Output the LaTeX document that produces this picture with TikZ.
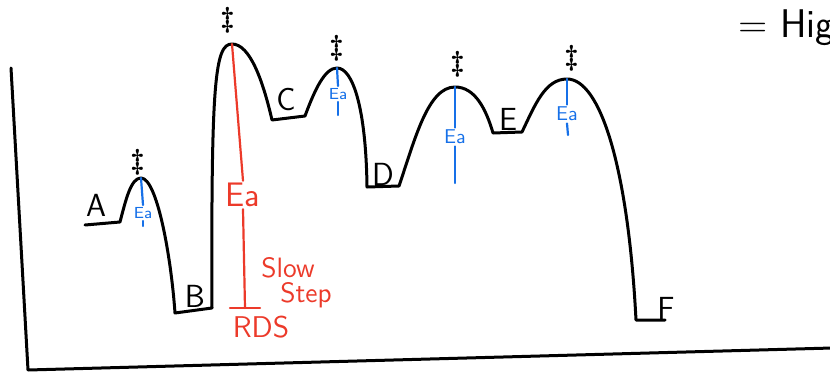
\documentclass[tikz,border=0pt]{standalone}
\usepackage{tikz}
\usetikzlibrary{positioning, calc}
\definecolor{sketchred}{RGB}{236,58,42}
\definecolor{sketchblue}{RGB}{22,112,232}

\begin{document}
\begin{tikzpicture}[x=0.5pt, y=0.5pt, font=\sffamily,
    profile/.style={line width=1.5pt, black, line cap=round, line join=round},
    ealine/.style={line width=1.1pt, sketchblue, line cap=round},
    rdsline/.style={line width=1.1pt, sketchred, line cap=round},
    state/.style={inner sep=1pt, font=\sffamily\fontsize{16}{16}\selectfont},
    ts/.style={inner sep=0pt, font=\boldmath\fontsize{14}{14}\selectfont},
    ealabel/.style={inner sep=1pt, text=sketchblue, font=\sffamily\fontsize{8}{8}\selectfont},
    redlabel/.style={inner sep=1pt, text=sketchred, font=\sffamily\fontsize{14}{14}\selectfont}]
    \useasboundingbox (0,0) rectangle (830,371);

    % Axes
    \coordinate (Top) at (11,303);
    \coordinate (Origin) at (28,1);
    \coordinate (Right) at (832,23);
    \draw[profile] (Top) -- (Origin) -- (Right);

    % Levels and peaks
    \coordinate (A1) at (85,146);  \coordinate (A2) at (120,149);
    \coordinate (P1) at (141,193);
    \coordinate (B1) at (175,58);  \coordinate (B2) at (212,63);
    \coordinate (P2) at (232,327);
    \coordinate (C1) at (272,251); \coordinate (C2) at (305,255);
    \coordinate (P3) at (337,303);
    \coordinate (D1) at (367,184); \coordinate (D2) at (399,185);
    \coordinate (P4) at (455,284);
    \coordinate (E1) at (493,238); \coordinate (E2) at (522,239);
    \coordinate (P5) at (567,292);
    \coordinate (F1) at (636,51);  \coordinate (F2) at (665,51);

    % Energy profile
    \draw[profile] (A1) -- (A2)
        .. controls (126,172) and (131,193) .. (P1)
        .. controls (157,193) and (171,115) .. (B1) -- (B2)
        .. controls (211,290) and (215,327) .. (P2)
        .. controls (250,327) and (263,290) .. (C1) -- (C2)
        .. controls (315,282) and (325,303) .. (P3)
        .. controls (353,303) and (366,262) .. (D1) -- (D2)
        .. controls (415,232) and (428,284) .. (P4)
        .. controls (475,284) and (486,262) .. (E1) -- (E2)
        .. controls (535,266) and (545,292) .. (P5)
        .. controls (600,292) and (628,205) .. (F1) -- (F2);

    % State labels
    \node[state] (labA) at (96,166) {A};
    \node[state] (labB) at (195,75) {B};
    \node[state] (labC) at (286,271) {C};
    \node[state] (labD) at (383,197) {D};
    \node[state] (labE) at (508,252) {E};
    \node[state] (labF) at (666,63) {F};

    % Transition states
    \node[ts] (ts1) at (138,209) {$\ddagger$};
    \node[ts] (ts2) at (228,351) {$\ddagger$};
    \node[ts] (ts3) at (337,323) {$\ddagger$};
    \node[ts] (ts4) at (458,307) {$\ddagger$};
    \node[ts] (ts5) at (572,313) {$\ddagger$};

    % Activation energies
    \node[ealabel] (ea1) at (143,158) {Ea};
    \coordinate (ea1end) at (143,145);
    \draw[ealine] (P1) -- (ea1.north);
    \draw[ealine] (ea1.south) -- (ea1end);

    \node[ealabel] (ea3) at (338,277) {Ea};
    \coordinate (ea3end) at (338,256);
    \draw[ealine] (P3) -- (ea3.north);
    \draw[ealine] (ea3.south) -- (ea3end);

    \node[ealabel, font=\sffamily\fontsize{10}{10}\selectfont] (ea4) at (455,234) {Ea};
    \coordinate (ea4end) at (455,188);
    \draw[ealine] (P4) -- (ea4.north);
    \draw[ealine] (ea4.south) -- (ea4end);

    \node[ealabel, font=\sffamily\fontsize{10}{10}\selectfont] (ea5) at (567,257) {Ea};
    \coordinate (ea5end) at (568,236);
    \draw[ealine] (P5) -- (ea5.north);
    \draw[ealine] (ea5.south) -- (ea5end);

    % Rate determining step
    \node[redlabel, font=\sffamily\fontsize{17}{17}\selectfont] (eaR) at (243,176) {Ea};
    \coordinate (R0) at (245,63);
    \coordinate (RL) at (230,63);
    \coordinate (RR) at (260,63);
    \draw[rdsline] (P2) -- (eaR.north);
    \draw[rdsline] (eaR.south) -- (R0);
    \draw[rdsline] (RL) -- (RR);
    \node[redlabel, font=\sffamily\fontsize{15}{15}\selectfont] (rds) at (261,44) {RDS};
    \node[redlabel] (slow) at (288,103) {Slow};
    \node[redlabel] (stepword) at (306,76) {Step};

    % Key
    \node[anchor=west, inner sep=0pt, font=\sffamily\fontsize{20}{20}\selectfont] (key) at (738,343) {= High};
\end{tikzpicture}
\end{document}
